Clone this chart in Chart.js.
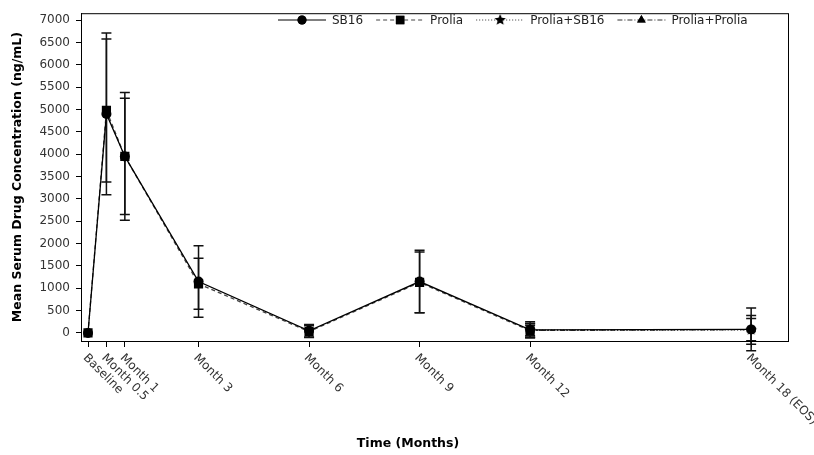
<!DOCTYPE html>
<html>
<head>
<meta charset="utf-8">
<script src="https://cdn.jsdelivr.net/npm/chart.js@4"></script>
<style>
  body { margin: 0; background: #fff; }
  #wrap { width: 814px; height: 455px; }
</style>
</head>
<body>
<div id="wrap"><canvas id="chart"></canvas></div>
<script>
// time points (months) and their labels
const months = [0, 0.5, 1, 3, 6, 9, 12, 18];
const monthLabels = ['Baseline', 'Month 0.5', 'Month 1', 'Month 3', 'Month 6', 'Month 9', 'Month 12', 'Month 18 (EOS)'];
const yTicks = [0, 500, 1000, 1500, 2000, 2500, 3000, 3500, 4000, 4500, 5000, 5500, 6000, 6500, 7000];

// means and SDs (null = no value at that visit)
const sb16 = [0, 4900, 3950, 1150, 50, 1150, 70, 80];
const sb16Sd = [0, 1810, 1430, 800, 140, 700, 180, 480];
const prolia = [0, 4980, 3950, 1100, 30, 1130, 50, null];
const proliaSd = [0, 1600, 1300, 570, 130, 680, 160, null];
const proliaSb16 = [null, null, null, null, null, null, 60, 70];
const proliaSb16Sd = [null, null, null, null, null, null, 150, 320];
const proliaProlia = [null, null, null, null, null, null, 55, 75];
const proliaProliaSd = [null, null, null, null, null, null, 120, 250];

const FONT = '"DejaVu Sans", sans-serif';

// filled five-point star marker
function starImage(r) {
  const c = document.createElement('canvas');
  c.width = c.height = r * 2 + 2;
  const g = c.getContext('2d');
  g.beginPath();
  for (let i = 0; i < 10; i++) {
    const rad = i % 2 ? r * 0.45 : r;
    const a = -Math.PI / 2 + i * Math.PI / 5;
    g.lineTo(c.width / 2 + rad * Math.cos(a), c.height / 2 + rad * Math.sin(a));
  }
  g.closePath();
  g.fillStyle = '#000';
  g.fill();
  return c;
}
const star = starImage(6);

function pts(vals) {
  const out = [];
  vals.forEach((v, i) => { if (v !== null) out.push({ x: months[i], y: v }); });
  return out;
}

function series(label, vals, sd, dash, style, radius, color) {
  return {
    label: label,
    data: pts(vals),
    sd: sd,
    showLine: true,
    borderColor: color,
    borderWidth: 1.3,
    borderDash: dash,
    pointStyle: style,
    pointRadius: radius,
    pointBackgroundColor: '#000',
    pointBorderColor: '#000',
    pointBorderWidth: 0
  };
}

const errorBars = {
  id: 'errorBars',
  beforeDatasetsDraw(chart) {
    const ctx = chart.ctx;
    const x = chart.scales.x, y = chart.scales.y;
    ctx.save();
    ctx.strokeStyle = '#111';
    ctx.lineWidth = 1.5;
    chart.data.datasets.forEach(ds => {
      ds.data.forEach(p => {
        const i = months.indexOf(p.x);
        const s = ds.sd[i];
        if (!s) return;
        const px = x.getPixelForValue(p.x);
        const top = y.getPixelForValue(p.y + s);
        const bot = y.getPixelForValue(p.y - s);
        ctx.beginPath();
        ctx.moveTo(px, top); ctx.lineTo(px, bot);
        ctx.moveTo(px - 5, top); ctx.lineTo(px + 5, top);
        ctx.moveTo(px - 5, bot); ctx.lineTo(px + 5, bot);
        ctx.stroke();
      });
    });
    ctx.restore();
  }
};

const decorations = {
  id: 'decorations',
  afterDraw(chart) {
    const ctx = chart.ctx;
    const a = chart.chartArea;
    const x = chart.scales.x;
    ctx.save();
    // frame
    ctx.strokeStyle = '#000';
    ctx.lineWidth = 1;
    ctx.strokeRect(a.left + 0.5, a.top + 0.5, a.right - a.left, a.bottom - a.top);

    // rotated x labels
    ctx.fillStyle = '#333';
    ctx.font = '12px ' + FONT;
    ctx.textAlign = 'left';
    ctx.textBaseline = 'middle';
    months.forEach((m, i) => {
      const px = x.getPixelForValue(m);
      ctx.save();
      ctx.translate(px - 3, a.bottom + 15);
      ctx.rotate(Math.PI / 4);
      ctx.fillText(monthLabels[i], 0, 0);
      ctx.restore();
    });

    // axis titles
    ctx.fillStyle = '#000';
    ctx.font = 'bold 12.5px ' + FONT;
    ctx.textAlign = 'center';
    ctx.fillText('Time (Months)', 408, 444);
    ctx.save();
    ctx.translate(18, (a.top + a.bottom) / 2);
    ctx.rotate(-Math.PI / 2);
    ctx.fillText('Mean Serum Drug Concentration (ng/mL)', 0, 0);
    ctx.restore();

    // legend
    ctx.font = '12px ' + FONT;
    ctx.textAlign = 'left';
    let lx = 278;
    const ly = 20;
    chart.data.datasets.forEach(ds => {
      ctx.strokeStyle = ds.borderColor;
      ctx.lineWidth = 1;
      ctx.setLineDash(ds.borderDash);
      ctx.beginPath();
      ctx.moveTo(lx, ly); ctx.lineTo(lx + 48, ly);
      ctx.stroke();
      ctx.setLineDash([]);
      Chart.helpers.drawPoint(ctx, {
        pointStyle: ds.pointStyle, radius: ds.pointRadius - 0.5, borderWidth: 0
      }, lx + 24, ly);
      ctx.fillStyle = '#000';
      ctx.fill();
      ctx.fillStyle = '#222';
      ctx.fillText(ds.label, lx + 54, ly + 1);
      lx += 54 + ctx.measureText(ds.label).width + 13;
    });
    ctx.restore();
  }
};

new Chart(document.getElementById('chart'), {
  type: 'scatter',
  data: {
    datasets: [
      series('SB16', sb16, sb16Sd, [], 'circle', 5, '#000'),
      series('Prolia', prolia, proliaSd, [4, 3], 'rect', 6.5, '#444'),
      series('Prolia+SB16', proliaSb16, proliaSb16Sd, [1, 2], star, 6, '#333'),
      series('Prolia+Prolia', proliaProlia, proliaProliaSd, [5, 2, 1, 2], 'triangle', 5.5, '#333')
    ]
  },
  options: {
    responsive: true,
    maintainAspectRatio: false,
    animation: false,
    layout: { padding: { top: 11, right: 26, left: 0, bottom: 0 } },
    plugins: { legend: { display: false }, tooltip: { enabled: false } },
    scales: {
      x: {
        type: 'linear',
        min: -0.19,
        max: 19.0,
        afterBuildTicks: s => { s.ticks = months.map(v => ({ value: v })); },
        afterFit: s => { s.height = 114; },
        ticks: { autoSkip: false, callback: () => '', maxRotation: 0 },
        grid: { drawOnChartArea: false, drawTicks: true, tickLength: 6, color: '#000' },
        border: { color: '#000', width: 1 }
      },
      y: {
        min: -180,
        max: 7155,
        afterBuildTicks: s => { s.ticks = yTicks.map(v => ({ value: v })); },
        afterFit: s => { s.width = 81; },
        ticks: { color: '#333', font: { family: FONT, size: 12 }, padding: 6, callback: v => String(v) },
        grid: { drawOnChartArea: false, drawTicks: true, tickLength: 5, color: '#000' },
        border: { color: '#000', width: 1 }
      }
    }
  },
  plugins: [errorBars, decorations]
});
</script>
</body>
</html>
